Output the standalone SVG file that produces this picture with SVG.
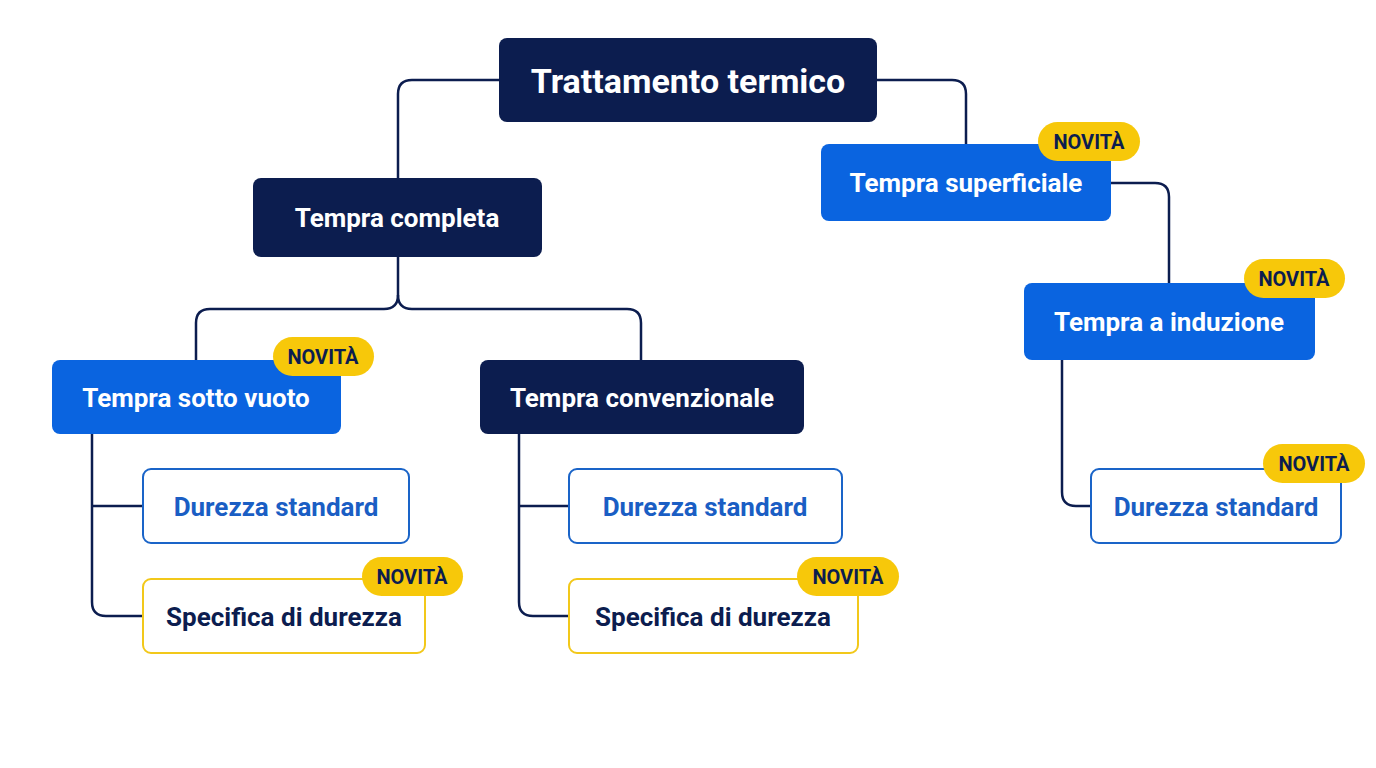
<svg xmlns="http://www.w3.org/2000/svg" width="1376" height="768" viewBox="0 0 1376 768">
<style>
.dark{fill:#0c1d4f}
.blue{fill:#0a64e0}
.ob{fill:#fff;stroke:#1a64c8;stroke-width:2}
.oy{fill:#fff;stroke:#f2c81a;stroke-width:2}
.badge{fill:#f7c80a}
text{font-family:"Roboto","Liberation Sans",sans-serif;font-weight:bold;text-anchor:middle;dominant-baseline:central}
.w{fill:#fff;font-size:26px}
.tb{fill:#1a5ec4;font-size:26px}
.td{fill:#0c1d4f;font-size:26px}
.bt{fill:#0c1d4f;font-size:20px}
.c{fill:none;stroke:#0c1d4f;stroke-width:2.5}
</style>
<rect width="1376" height="768" fill="#fff"/>
<g id="connectors">
<path class="c" d="M499 80 H412 Q398 80 398 94 V178"/>
<path class="c" d="M877 80 H952 Q966 80 966 94 V144"/>
<path class="c" d="M1111 183 H1155 Q1169 183 1169 197 V283"/>
<path class="c" d="M398 257 V295 Q398 309 384 309 H210 Q196 309 196 323 V360"/>
<path class="c" d="M398 295 Q398 309 412 309 H627 Q641 309 641 323 V360"/>
<path class="c" d="M92 434 V602 Q92 616 106 616 H143 M92 506 H143"/>
<path class="c" d="M519 434 V602 Q519 616 533 616 H569 M519 506 H569"/>
<path class="c" d="M1062 360 V492 Q1062 506 1076 506 H1091"/>
</g>
<g id="root"><rect class="dark" x="499" y="38" width="378" height="84" rx="8"/><text class="w" x="688" y="81" style="font-size:34px">Trattamento termico</text></g>
<g id="completa"><rect class="dark" x="253" y="178" width="289" height="79" rx="8"/><text class="w" x="397" y="218">Tempra completa</text></g>
<g id="superficiale"><rect class="blue" x="821" y="144" width="290" height="77" rx="8"/><text class="w" x="966" y="183">Tempra superficiale</text>
<rect class="badge" x="1038" y="122" width="102" height="39" rx="19.5"/><text class="bt" x="1089" y="142">NOVITÀ</text></g>
<g id="induzione"><rect class="blue" x="1024" y="283" width="291" height="77" rx="8"/><text class="w" x="1169" y="322">Tempra a induzione</text>
<rect class="badge" x="1244" y="259" width="101" height="39" rx="19.5"/><text class="bt" x="1294" y="279">NOVITÀ</text></g>
<g id="vuoto"><rect class="blue" x="52" y="360" width="289" height="74" rx="8"/><text class="w" x="196" y="398">Tempra sotto vuoto</text>
<rect class="badge" x="273" y="337" width="101" height="39" rx="19.5"/><text class="bt" x="323" y="357">NOVITÀ</text></g>
<g id="convenzionale"><rect class="dark" x="480" y="360" width="324" height="74" rx="8"/><text class="w" x="642" y="398">Tempra convenzionale</text></g>
<g id="d1"><rect class="ob" x="143" y="469" width="266" height="74" rx="8"/><text class="tb" x="276" y="507">Durezza standard</text></g>
<g id="s1"><rect class="oy" x="143" y="579" width="282" height="74" rx="8"/><text class="td" x="284" y="617">Specifica di durezza</text>
<rect class="badge" x="362" y="557" width="101" height="39" rx="19.5"/><text class="bt" x="412" y="577">NOVITÀ</text></g>
<g id="d2"><rect class="ob" x="569" y="469" width="273" height="74" rx="8"/><text class="tb" x="705" y="507">Durezza standard</text></g>
<g id="s2"><rect class="oy" x="569" y="579" width="289" height="74" rx="8"/><text class="td" x="713" y="617">Specifica di durezza</text>
<rect class="badge" x="797" y="557" width="102" height="39" rx="19.5"/><text class="bt" x="848" y="577">NOVITÀ</text></g>
<g id="d3"><rect class="ob" x="1091" y="469" width="250" height="74" rx="8"/><text class="tb" x="1216" y="507">Durezza standard</text>
<rect class="badge" x="1263" y="444" width="102" height="39" rx="19.5"/><text class="bt" x="1314" y="464">NOVITÀ</text></g>
</svg>
